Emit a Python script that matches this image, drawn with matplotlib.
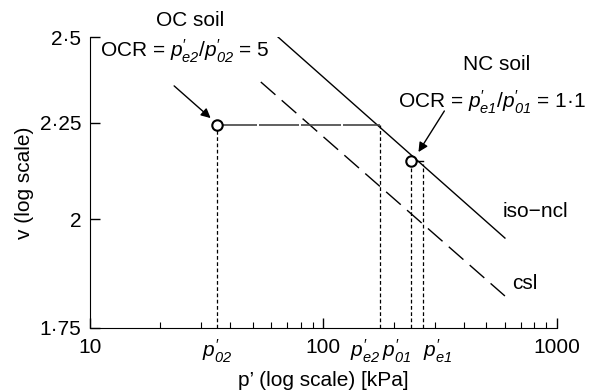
import matplotlib.pyplot as plt
from matplotlib.ticker import FixedLocator, LogLocator, NullFormatter

plt.rcParams['font.family'] = ['Liberation Sans', 'DejaVu Sans']
plt.rcParams['mathtext.fontset'] = 'custom'
plt.rcParams['mathtext.rm'] = 'Liberation Sans'
plt.rcParams['mathtext.it'] = 'Liberation Sans:italic'
plt.rcParams['mathtext.sf'] = 'Liberation Sans:italic'  # italic digits too

# lines
ncl_p = [64, 600]
ncl_v = [2.5, 1.954]
csl_p = [54, 600]
csl_v = [2.366, 1.82]

# soil states
p_02, p_e2, v_oc = 35, 175, 2.245
p_01, p_e1, v_nc, v_e1 = 237, 268, 2.148, 2.14

yticks = [1.75, 2.0, 2.25, 2.5]
ytick_labels = ['1·75', '2', '2·25', '2·5']
xticks = [10, p_02, 100, p_e2, p_01, p_e1, 1000]
xtick_labels = ['10', r"$p^{\prime}_{\mathsf{02}}$", '100', r"$p^{\prime}_{\mathsf{e2}}$",
                r"$p^{\prime}_{\mathsf{01}}$", r"$p^{\prime}_{\mathsf{e1}}$", '1000']
xtick_ha = ['center', 'center', 'center', 'right', 'right', 'left', 'center']

fs = 15
fig = plt.figure(figsize=(5.91, 3.90), dpi=100)
ax = fig.add_axes([0.152, 0.159, 0.790, 0.746])
ax.set_xscale('log')
ax.set_yscale('log')
ax.set_xlim(10, 1000)
ax.set_ylim(1.75, 2.5)

ax.plot(ncl_p, ncl_v, color='black', lw=1.0)
ax.plot(csl_p, csl_v, color='black', lw=1.0, dashes=(14, 6))

# OC soil
ax.plot([p_02, p_e2], [v_oc, v_oc], color='#444444', lw=1.2, dashes=(24, 1.2))
ax.plot([p_02, p_02], [1.75, v_oc], color='black', lw=0.9, dashes=(3, 2))
ax.plot([p_e2, p_e2], [1.75, v_oc], color='black', lw=0.9, dashes=(3, 2))
ax.plot([p_02], [v_oc], 'o', ms=7.5, mfc='white', mec='black', mew=1.5, zorder=5)

# NC soil
ax.plot([p_01, p_e1], [v_nc, v_nc], color='black', lw=1.0)
ax.plot([p_01, p_01], [1.75, v_nc], color='black', lw=0.9, dashes=(3, 2))
ax.plot([p_e1, p_e1], [1.75, v_e1], color='black', lw=0.9, dashes=(3, 2))
ax.plot([p_01], [v_nc], 'o', ms=7.5, mfc='white', mec='black', mew=1.5, zorder=5)

ax.text(26.8, 2.55, 'OC soil', fontsize=fs, ha='center', va='center', clip_on=False)
ax.text(25.5, 2.456, r"OCR = $p^{\prime}_{\mathsf{e2}}/p^{\prime}_{\mathsf{02}}$ = 5",
        fontsize=fs, ha='center', va='center')
ax.annotate('', xy=(p_02 * 0.96, v_oc * 1.006), xytext=(22.5, 2.36),
            arrowprops=dict(arrowstyle='-|>', color='black', lw=1.0, mutation_scale=14))

ax.text(553, 2.416, 'NC soil', fontsize=fs, ha='center', va='center')
ax.text(1330, 2.309, r"OCR = $p^{\prime}_{\mathsf{e1}}/p^{\prime}_{\mathsf{01}}$ = 1·1",
        fontsize=fs, ha='right', va='center', clip_on=False)
ax.annotate('', xy=(252, 2.165), xytext=(335, 2.29),
            arrowprops=dict(arrowstyle='-|>', color='black', lw=1.0, mutation_scale=14))

ax.text(587, 2.018, 'iso\u2212ncl', fontsize=fs, ha='left', va='center')
ax.text(647, 1.849, 'csl', fontsize=fs, ha='left', va='center')

ax.spines['top'].set_visible(False)
ax.spines['right'].set_visible(False)

ax.yaxis.set_major_locator(FixedLocator(yticks))
ax.set_yticklabels(ytick_labels)
ax.yaxis.set_minor_formatter(NullFormatter())
ax.yaxis.set_minor_locator(FixedLocator([]))
ax.xaxis.set_major_locator(FixedLocator(xticks))
ax.set_xticklabels(xtick_labels)
for lab, ha in zip(ax.get_xticklabels(), xtick_ha):
    lab.set_ha(ha)
ax.xaxis.set_minor_locator(LogLocator(base=10, subs=range(2, 10)))
ax.xaxis.set_minor_formatter(NullFormatter())
ax.tick_params(axis='both', which='major', direction='in', length=7, labelsize=fs, width=1.0)
ax.tick_params(axis='x', which='minor', direction='in', length=4, width=0.8)
ax.tick_params(axis='x', which='major', pad=7)
ax.tick_params(axis='y', which='major', pad=6)
for t in ax.xaxis.get_major_ticks():
    if t.get_loc() not in (10, 100, 1000):
        t.tick1line.set_visible(False)

ax.set_xlabel("p’ (log scale) [kPa]", fontsize=fs)
ax.xaxis.set_label_coords(0.5, -0.148)
ax.set_ylabel('v (log scale)', fontsize=fs, labelpad=4)

fig.savefig('out.png', dpi=100)
